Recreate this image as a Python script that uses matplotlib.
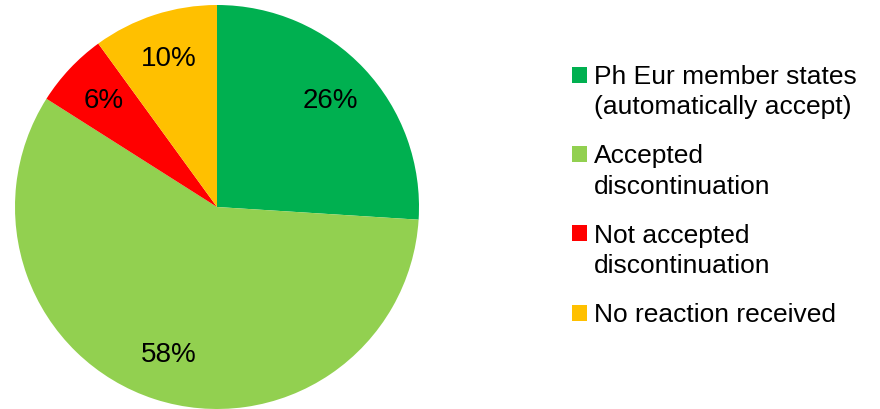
import matplotlib.pyplot as plt
from matplotlib.patches import Patch, Rectangle
from matplotlib.legend_handler import HandlerPatch

plt.rcParams['font.family'] = ['Liberation Sans', 'DejaVu Sans']

# Daten
labels = ['Ph Eur member states\n(automatically accept)',
          'Accepted\ndiscontinuation',
          'Not accepted\ndiscontinuation',
          'No reaction received']
values = [26, 58, 6, 10]
colors = ['#00B050', '#92D050', '#FF0000', '#FFC000']

LEG_FS = 19
LINESP = 1.33

fig = plt.figure(figsize=(8.8, 4.09), dpi=100)
ax = fig.add_axes([15 / 880, 0, 404 / 880, 404 / 409])

wedges, texts, autotexts = ax.pie(
    values,
    colors=colors,
    startangle=90,
    counterclock=False,
    autopct=lambda p: f"{p:.0f}%",
    pctdistance=0.77,
    radius=1,
    textprops={'fontsize': 20, 'color': 'black'},
    wedgeprops={'linewidth': 0},
)
ax.set_xlim(-1, 1)
ax.set_ylim(-1, 1)
ax.set_aspect('equal')


# Quadrat an der ersten Zeile ausrichten (wie in Excel)
def top_square(legend, orig_handle, xdescent, ydescent, width, height, fontsize):
    shift = (orig_handle.nlines - 1) * 0.5 * LINESP * fontsize
    return Rectangle((-xdescent, -ydescent + shift), width, height)


handles = []
for c, lab in zip(colors, labels):
    p = Patch(facecolor=c, edgecolor='none')
    p.nlines = lab.count('\n') + 1
    handles.append(p)

leg = fig.legend(
    handles, labels,
    loc='upper left',
    bbox_to_anchor=(572 / 880, 1 - 65 / 409),
    frameon=False,
    fontsize=LEG_FS,
    borderpad=0,
    borderaxespad=0,
    handlelength=0.57,
    handleheight=0.55,
    handletextpad=0.25,
    labelspacing=0.95,
    handler_map={Patch: HandlerPatch(patch_func=top_square)},
)
for t in leg.get_texts():
    t.set_linespacing(LINESP)

fig.savefig('out.png', dpi=100)
